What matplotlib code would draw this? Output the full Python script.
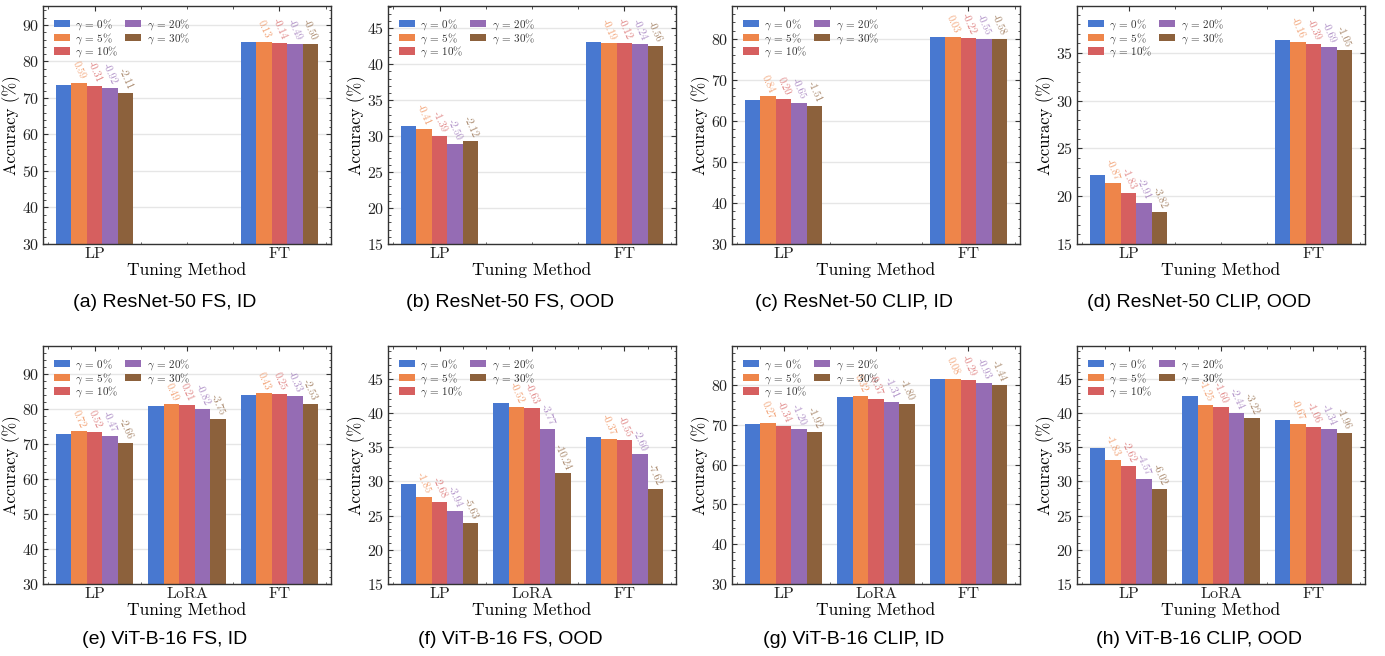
import numpy as np
import matplotlib
matplotlib.use("Agg")
import matplotlib.pyplot as plt
from matplotlib.ticker import AutoMinorLocator, MultipleLocator

plt.rcParams['font.family'] = 'cmr10'
plt.rcParams['mathtext.fontset'] = 'cm'
plt.rcParams['axes.unicode_minus'] = False
plt.rcParams['axes.formatter.use_mathtext'] = True

# gamma levels and bar colours
gammas = ["0", "5", "10", "20", "30"]
colors = ["#4878d0", "#ee854a", "#d65f5f", "#956cb4", "#8c613c"]

methods_top = ["LP", "FT"]
methods_bot = ["LP", "LoRA", "FT"]

# accuracy at gamma = 0% for each tuning method, and the change for 5/10/20/30%
base_a = [73.56, 85.34]
delta_a = [[0.59, -0.31, -0.92, -2.11], [0.13, -0.14, -0.49, -0.50]]
base_b = [31.41, 43.09]
delta_b = [[-0.41, -1.39, -2.50, -2.12], [-0.19, -0.12, -0.24, -0.56]]
base_c = [65.12, 80.49]
delta_c = [[0.84, 0.20, -0.65, -1.51], [0.03, -0.22, -0.55, -0.58]]
base_d = [22.20, 36.30]
delta_d = [[-0.87, -1.83, -2.91, -3.82], [-0.16, -0.39, -0.69, -1.05]]

base_e = [72.94, 80.95, 84.10]
delta_e = [[0.72, 0.52, -0.47, -2.66], [0.49, 0.21, -0.82, -3.75], [0.43, 0.25, -0.33, -2.53]]
base_f = [29.61, 41.41, 36.54]
delta_f = [[-1.85, -2.68, -3.94, -5.63], [-0.52, -0.63, -3.77, -10.24], [-0.37, -0.55, -2.60, -7.62]]
base_g = [70.15, 76.97, 81.52]
delta_g = [[0.27, -0.34, -1.20, -1.92], [0.32, -0.37, -1.31, -1.80], [0.08, -0.29, -0.93, -1.44]]
base_h = [34.92, 42.45, 39.05]
delta_h = [[-1.83, -2.62, -4.57, -6.02], [-1.25, -1.60, -2.44, -3.22], [-0.67, -1.06, -1.34, -1.96]]

panels = [
    ("(a) ResNet-50 FS, ID", methods_top, base_a, delta_a, (30, 95.2), 10),
    ("(b) ResNet-50 FS, OOD", methods_top, base_b, delta_b, (15, 48.1), 5),
    ("(c) ResNet-50 CLIP, ID", methods_top, base_c, delta_c, (30, 88), 10),
    ("(d) ResNet-50 CLIP, OOD", methods_top, base_d, delta_d, (15, 39.9), 5),
    ("(e) ViT-B-16 FS, ID", methods_bot, base_e, delta_e, (30, 98.1), 10),
    ("(f) ViT-B-16 FS, OOD", methods_bot, base_f, delta_f, (15, 49.8), 5),
    ("(g) ViT-B-16 CLIP, ID", methods_bot, base_g, delta_g, (30, 89.8), 10),
    ("(h) ViT-B-16 CLIP, OOD", methods_bot, base_h, delta_h, (15, 49.8), 5),
]

W, H = 1385, 656
fig = plt.figure(figsize=(W / 100, H / 100), dpi=100)

lefts = [43, 388, 732, 1077]
tops = [6, 346]
aw, ah = 288, 238
cap_y = [302, 640]

for k, (title, methods, base, delta, ylim, major) in enumerate(panels):
    row, col = k // 4, k % 4
    ax = fig.add_axes([lefts[col] / W, 1 - (tops[row] + ah) / H, aw / W, ah / H])
    n = len(methods)
    x = np.arange(n)
    w = 1 / 12 if n == 2 else 1 / 6
    for j in range(5):
        vals = []
        for i in range(n):
            if j == 0:
                vals.append(base[i])
            else:
                vals.append(base[i] + delta[i][j - 1])
        pos = x + (j - 2) * w
        ax.bar(pos, vals, w, color=colors[j], label=r"$\gamma$ = " + gammas[j] + "%", zorder=2)
        if j > 0:
            for i in range(n):
                ax.annotate("%.2f" % delta[i][j - 1], (pos[i], vals[i]), xytext=(0, 1.5),
                            textcoords="offset points", ha="center", va="bottom",
                            rotation=-66, fontsize=7.5, color=colors[j], alpha=0.75)
    ax.set_ylim(*ylim)
    ax.set_xticks(x)
    ax.set_xticklabels(methods)
    ax.yaxis.set_major_locator(MultipleLocator(major))
    ax.yaxis.set_minor_locator(AutoMinorLocator(5))
    ax.xaxis.set_minor_locator(AutoMinorLocator(4))
    ax.tick_params(which="both", direction="in", top=True, right=True, labelsize=11.5, colors="#333333", labelcolor="#222222")
    ax.tick_params(which="major", length=3.5, pad=2.5)
    ax.tick_params(which="minor", length=1.8)
    ax.grid(axis="y", color="#e6e6e6", linewidth=1, zorder=0)
    ax.set_axisbelow(True)
    for s in ax.spines.values():
        s.set_color("#333333")
        s.set_linewidth(1.0)
    ax.set_ylabel("Accuracy (%)", fontsize=12, labelpad=1)
    ax.set_xlabel("Tuning Method", fontsize=12.5, labelpad=1)
    leg = ax.legend(loc="upper left", ncol=2, frameon=False, fontsize=8, handlelength=1.4,
                    handleheight=0.65, handletextpad=0.5, columnspacing=0.6, labelspacing=-0.1,
                    borderaxespad=0.6)
    for t in leg.get_texts():
        t.set_color("#333333")
    fig.text((lefts[col] + aw / 2 - 22) / W, 1 - cap_y[row] / H, title, ha="center", va="center",
             fontsize=14, family="Liberation Sans")

fig.savefig("out.png", dpi=100)
